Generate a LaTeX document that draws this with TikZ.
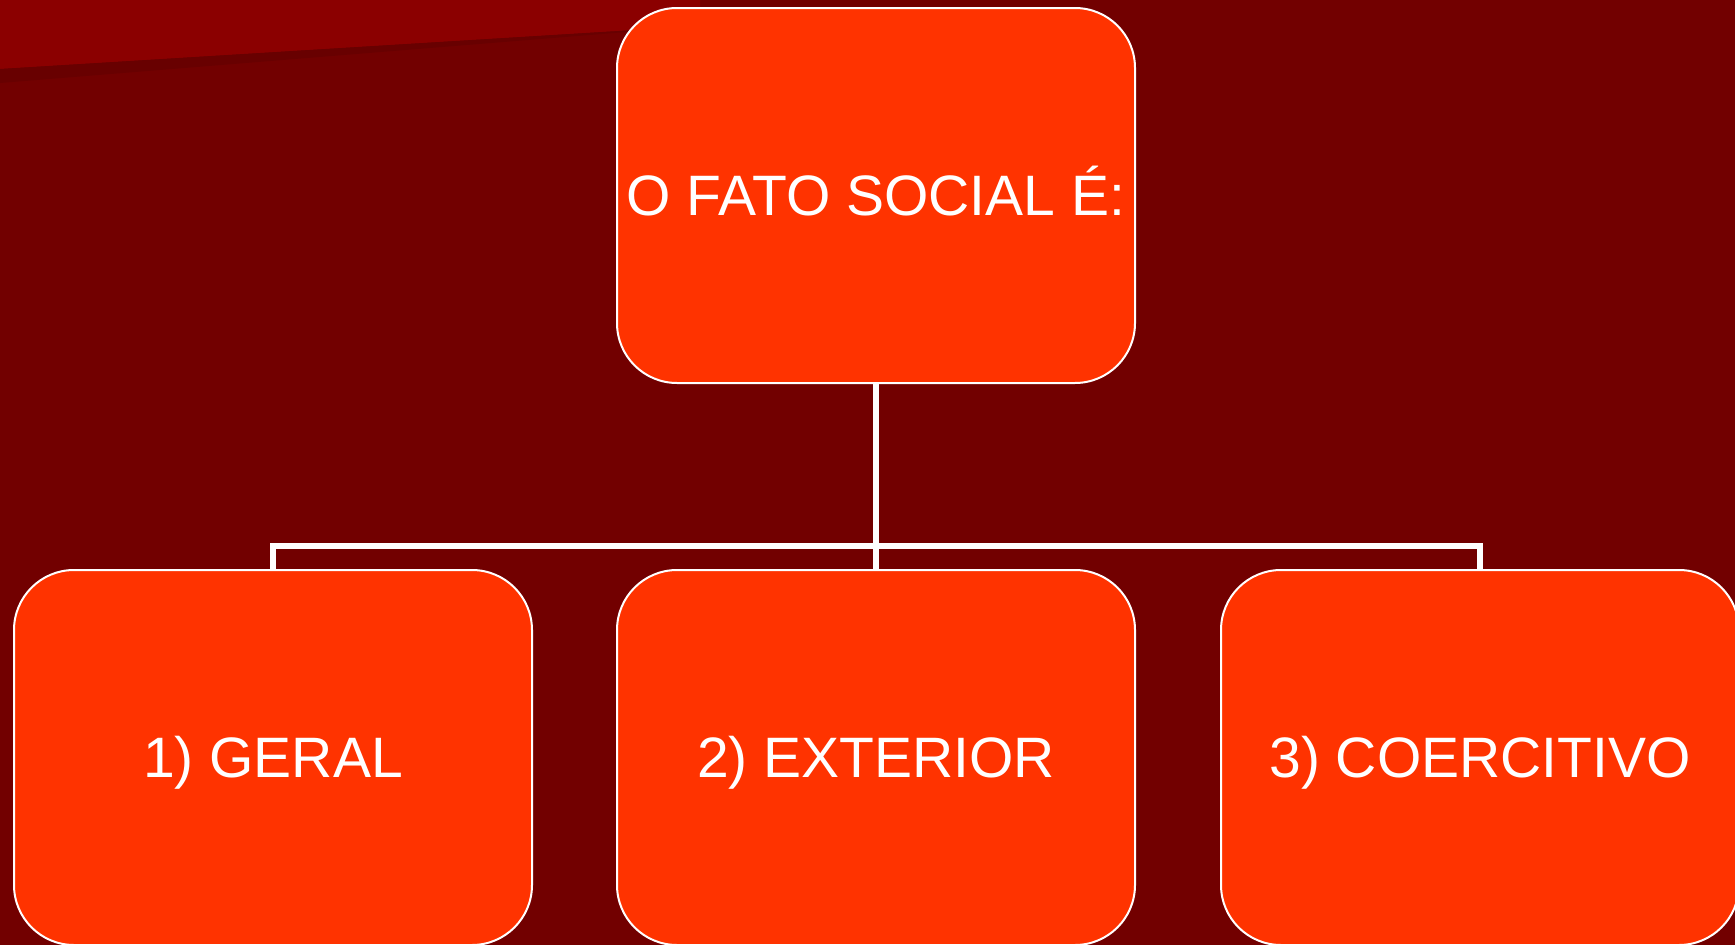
\documentclass[tikz,border=0pt]{standalone}
\usepackage{fontspec}
\setmainfont{Liberation Sans}
\definecolor{bgdark}{RGB}{114,0,0}
\definecolor{bglight}{RGB}{139,0,0}
\definecolor{bgband}{RGB}{104,0,0}
\definecolor{boxfill}{RGB}{255,51,0}
\tikzset{
  factbox/.style={draw=white, line width=2pt, fill=boxfill, rounded corners=60pt,
    minimum width=518pt, minimum height=375pt, outer sep=0pt, inner sep=0pt,
    text=white, font=\fontsize{57}{60}\selectfont, text height=40.8pt, text depth=0pt},
  link/.style={draw=white, line width=6.5pt, line cap=butt, line join=miter}
}
\begin{document}
\begin{tikzpicture}[x=1pt,y=-1pt]
\useasboundingbox (0,0) rectangle (1735,945);
\clip (0,0) rectangle (1735,945);
\fill[bgdark] (0,0) rectangle (1735,945);
\fill[bglight] (0,0) -- (700,0) -- (700,26) -- (0,69) -- cycle;
\fill[bgband] (0,69) -- (700,26) -- (0,83) -- cycle;
\node[factbox] (top) at (876,195.5) {O FATO SOCIAL É:};
\node[factbox] (l) at (273,757.5) {1) GERAL};
\node[factbox] (m) at (876,757.5) {2) EXTERIOR};
\node[factbox] (r) at (1480,757.5) {3) COERCITIVO};
\coordinate (bus) at (876,546);
\draw[link] (top.south) -- (m.north);
\draw[link] (l.north) |- (bus) -| (r.north);
\end{tikzpicture}
\end{document}
